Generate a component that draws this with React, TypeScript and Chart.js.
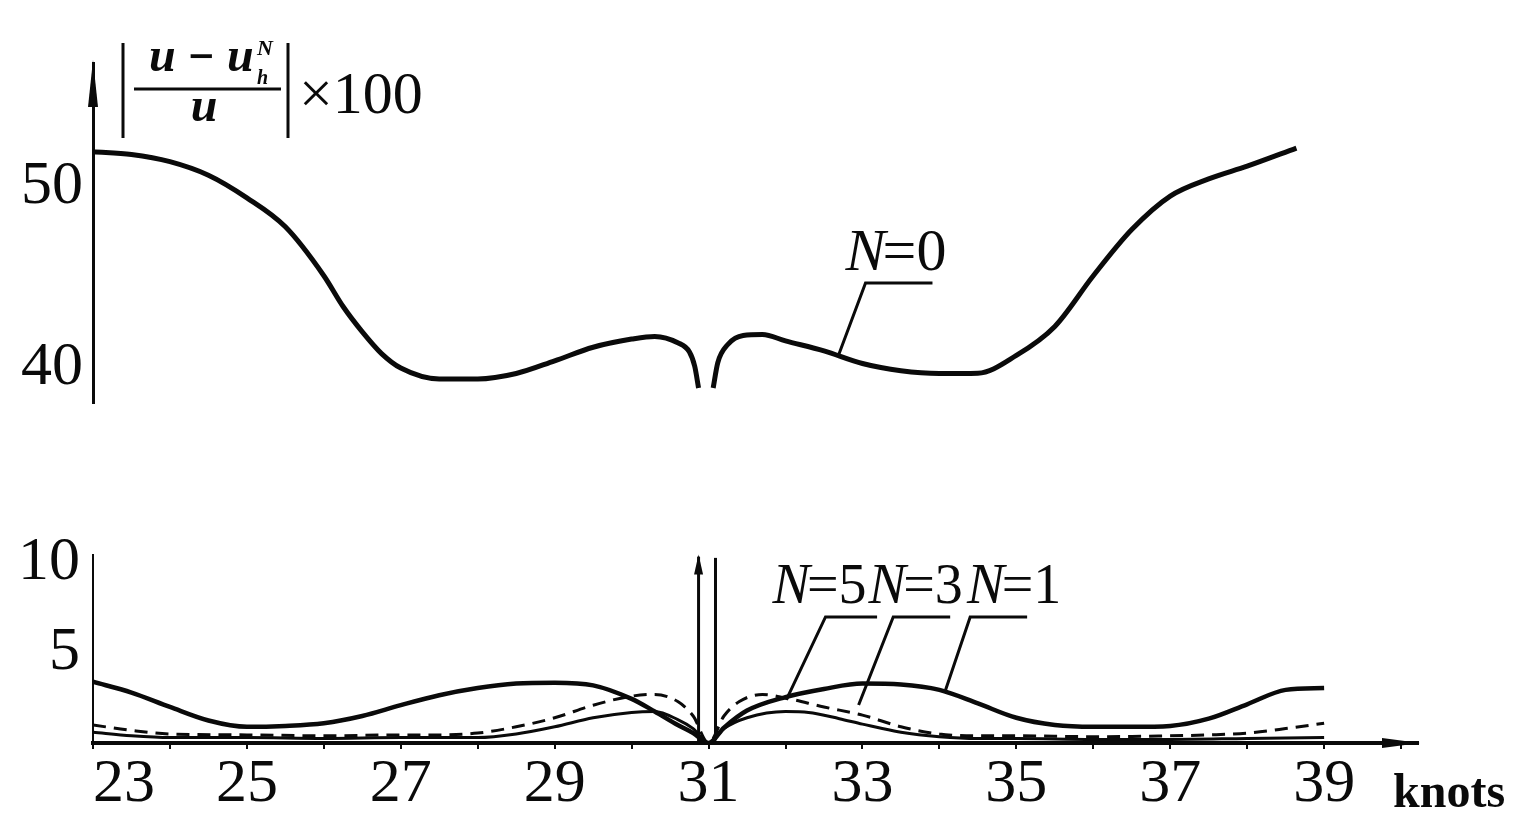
import React, { useEffect, useRef } from 'react';
import { Chart, registerables } from 'chart.js';

Chart.register(...registerables);

// ---------------- data ----------------
const xTickValues = [23, 25, 27, 29, 31, 33, 35, 37, 39];
const xTickLabels = ['23', '25', '27', '29', '31', '33', '35', '37', '39'];
const topYTicks = [40, 50];
const topYLabels = ['40', '50'];
const bottomYTicks = [5, 10];
const bottomYLabels = ['5', '10'];

// N = 0 (upper panel)
const n0Knots = [23, 23.5, 24, 24.5, 25, 25.5, 26, 26.25, 26.5, 26.75, 27, 27.5, 28, 28.5, 29, 29.5, 30, 30.3, 30.6, 30.75, 30.82, 30.87, 30.97, 31.06, 31.12, 31.25, 31.45, 31.7, 32, 32.5, 33, 33.5, 34, 34.5, 35, 35.5, 36, 36.5, 37, 37.5, 38, 38.64];
const n0Values = [51.95, 51.8, 51.4, 50.65, 49.4, 47.8, 45.1, 43.4, 42.0, 40.8, 40.0, 39.4, 39.4, 39.7, 40.4, 41.15, 41.6, 41.75, 41.4, 40.9, 40.1, 38.9, null, 38.9, 40.3, 41.3, 41.8, 41.85, 41.5, 40.95, 40.25, 39.85, 39.7, 39.72, 40.7, 42.3, 45.1, 47.65, 49.5, 50.45, 51.15, 52.15];

// N = 1 (thick solid)
const n1Knots = [23, 23.5, 24, 24.5, 25, 25.5, 26, 26.5, 27, 27.5, 28, 28.5, 29, 29.5, 30, 30.3, 30.6, 30.8, 31, 31.2, 31.5, 32, 32.5, 33, 33.5, 34, 34.5, 35, 35.5, 36, 36.5, 37, 37.5, 38, 38.5, 39];
const n1Values = [3.4, 2.8, 2.0, 1.25, 0.9, 0.95, 1.1, 1.5, 2.1, 2.65, 3.05, 3.3, 3.35, 3.2, 2.45, 1.75, 1.0, 0.55, 0, 0.85, 1.8, 2.55, 3.0, 3.3, 3.25, 2.95, 2.2, 1.4, 1.0, 0.9, 0.9, 0.95, 1.35, 2.15, 2.95, 3.05];

// N = 3 (dashed)
const n3Knots = [23, 23.5, 24, 25, 26, 27, 27.5, 28, 28.5, 29, 29.5, 30, 30.3, 30.6, 30.8, 31, 31.2, 31.4, 31.7, 32, 32.5, 33, 33.5, 34, 34.5, 35, 36, 37, 37.5, 38, 38.5, 39];
const n3Values = [1.0, 0.7, 0.5, 0.45, 0.4, 0.45, 0.45, 0.55, 0.9, 1.4, 2.1, 2.6, 2.7, 2.3, 1.5, 0, 1.5, 2.3, 2.7, 2.5, 2.0, 1.55, 0.9, 0.5, 0.4, 0.4, 0.35, 0.4, 0.45, 0.55, 0.8, 1.1];

// N = 5 (thin solid)
const n5Knots = [23, 23.5, 24, 25, 26, 27, 28, 28.5, 29, 29.5, 30, 30.3, 30.6, 30.8, 31, 31.2, 31.5, 32, 32.3, 32.7, 33, 33.5, 34, 34.5, 35, 36, 37, 38, 39];
const n5Values = [0.6, 0.4, 0.3, 0.3, 0.25, 0.3, 0.3, 0.5, 0.9, 1.4, 1.7, 1.75, 1.3, 0.8, 0, 0.8, 1.4, 1.75, 1.7, 1.35, 1.05, 0.6, 0.35, 0.25, 0.25, 0.2, 0.2, 0.25, 0.3];

// vertical spike at knot 31 (two lines)
const spikeKnots = [30.87, 31.09];
const spikeBottoms = [0, 0.15];
const spikeTops = [10.35, 10.28];

// label leader lines
const leaderN0Knots = [32.69, 33.04, 33.91];
const leaderN0Values = [40.72, 44.7, 44.7];
const leaderN5Knots = [32.01, 32.52, 33.19];
const leaderN5Values = [2.39, 7.0, 7.0];
const leaderN3Knots = [32.95, 33.4, 34.14];
const leaderN3Values = [2.11, 7.0, 7.0];
const leaderN1Knots = [34.08, 34.4, 35.14];
const leaderN1Values = [2.94, 7.0, 7.0];

// curve labels
const n0LabelText = ['N', '=0'];
const n0LabelPos = [32.78, 45.4];
const bottomLabelTexts = ['=5', '=3', '=1'];
const bottomLabelKnots = [31.83, 33.08, 34.36];
const bottomLabelValue = 7.75;

const xMin = 23;
const xMax = 40.22;

// ---------------- helpers ----------------
const SERIF = '"Liberation Serif", "Times New Roman", serif';
const INK = '#0a0a0a';
const W = 1514;
const H = 826;

const pts = (k: number[], v: (number | null)[]) => k.map((x, i) => ({ x, y: v[i] }));

function drawNLabel(ctx: CanvasRenderingContext2D, x: number, y: number, rest: string, size: number) {
  ctx.textAlign = 'left';
  ctx.textBaseline = 'alphabetic';
  ctx.font = `italic ${size}px ${SERIF}`;
  ctx.fillText('N', x, y);
  const w = ctx.measureText('N').width;
  ctx.font = `${size}px ${SERIF}`;
  ctx.fillText(rest, x + w - size * 0.05, y);
}

function lineDs(data: any[], width: number, dash: number[] = [], smooth = true) {
  return {
    data,
    borderColor: INK,
    borderWidth: width,
    borderDash: dash,
    pointRadius: 0,
    fill: false,
    spanGaps: false,
    cubicInterpolationMode: smooth ? 'monotone' : 'default',
    tension: smooth ? 0.4 : 0,
  };
}

const xTickCallback = (v: any) => {
  const i = xTickValues.findIndex((t) => Math.abs(t - Number(v)) < 1e-6);
  if (i < 0) return '';
  return i === 0 ? '    ' + xTickLabels[i] : xTickLabels[i];
};

// ---------------- plugins ----------------
const topDecor = {
  id: 'topDecor',
  afterDraw(chart: any) {
    const { ctx, chartArea, scales } = chart;
    const ax = scales.y.right;
    const top = chartArea.top;
    ctx.save();
    ctx.fillStyle = INK;
    ctx.strokeStyle = INK;
    // axis arrow head
    ctx.beginPath();
    ctx.moveTo(ax, top - 3);
    ctx.lineTo(ax - 5, top + 44);
    ctx.lineTo(ax + 5, top + 44);
    ctx.closePath();
    ctx.fill();

    // |(u - u_h^N)/u| x100
    ctx.lineWidth = 3;
    ctx.beginPath();
    ctx.moveTo(ax + 30, top - 20);
    ctx.lineTo(ax + 30, top + 75);
    ctx.moveTo(ax + 195, top - 20);
    ctx.lineTo(ax + 195, top + 75);
    ctx.moveTo(ax + 41, top + 26);
    ctx.lineTo(ax + 188, top + 26);
    ctx.stroke();

    ctx.textBaseline = 'alphabetic';
    ctx.textAlign = 'left';
    ctx.font = `italic bold 48px ${SERIF}`;
    ctx.fillText('u', ax + 56, top + 8);
    ctx.font = `bold 34px "DejaVu Serif", serif`;
    ctx.fillText('\u2212', ax + 94, top + 4);
    ctx.font = `italic bold 48px ${SERIF}`;
    ctx.fillText('u', ax + 134, top + 8);
    ctx.font = `italic bold 22px ${SERIF}`;
    ctx.fillText('N', ax + 164, top - 8);
    ctx.font = `italic bold 20px ${SERIF}`;
    ctx.fillText('h', ax + 164, top + 21);
    ctx.font = `italic bold 48px ${SERIF}`;
    ctx.textAlign = 'center';
    ctx.fillText('u', ax + 111, top + 58);
    ctx.textAlign = 'left';
    ctx.font = `60px ${SERIF}`;
    ctx.fillText('\u00d7100', ax + 206, top + 50);

    // N=0 label
    const lx = scales.x.getPixelForValue(n0LabelPos[0]);
    const ly = scales.y.getPixelForValue(n0LabelPos[1]);
    drawNLabel(ctx, lx, ly, n0LabelText[1], 60);
    ctx.restore();
  },
};

const bottomDecor = {
  id: 'bottomDecor',
  afterDraw(chart: any) {
    const { ctx, chartArea, scales } = chart;
    const xs = scales.x;
    const ys = scales.y;
    ctx.save();
    ctx.fillStyle = INK;
    // x axis arrow head
    const ay = chartArea.bottom;
    const ex = chartArea.right;
    ctx.beginPath();
    ctx.moveTo(ex + 2, ay);
    ctx.lineTo(ex - 36, ay - 5);
    ctx.lineTo(ex - 36, ay + 5);
    ctx.closePath();
    ctx.fill();
    // spike arrow head
    const sx = xs.getPixelForValue(spikeKnots[0]);
    const sy = ys.getPixelForValue(spikeTops[0]);
    ctx.beginPath();
    ctx.moveTo(sx, sy - 2);
    ctx.lineTo(sx - 4.5, sy + 18);
    ctx.lineTo(sx + 4.5, sy + 18);
    ctx.closePath();
    ctx.fill();

    // N=5 N=3 N=1 labels
    const by = ys.getPixelForValue(bottomLabelValue);
    bottomLabelKnots.forEach((k, i) => {
      drawNLabel(ctx, xs.getPixelForValue(k), by, bottomLabelTexts[i], 56);
    });

    // axis title
    ctx.font = `bold 48px ${SERIF}`;
    ctx.textAlign = 'left';
    ctx.textBaseline = 'alphabetic';
    ctx.fillText('knots', ex - 25, ay + 64);
    ctx.restore();
  },
};

// ---------------- component ----------------
export default function App() {
  const topRef = useRef<HTMLCanvasElement>(null);
  const botRef = useRef<HTMLCanvasElement>(null);

  useEffect(() => {
    const tickFont = { family: SERIF, size: 62, lineHeight: 1 };

    const topChart = new Chart(topRef.current as HTMLCanvasElement, {
      type: 'line',
      data: {
        datasets: [
          lineDs(pts(n0Knots, n0Values), 5),
          lineDs(pts(leaderN0Knots, leaderN0Values), 3, [], false),
        ],
      },
      options: {
        animation: false,
        responsive: false,
        maintainAspectRatio: false,
        layout: { padding: { top: 63, bottom: H - 403, left: 0, right: 96 } },
        plugins: { legend: { display: false }, tooltip: { enabled: false }, title: { display: false } },
        scales: {
          x: { type: 'linear', min: xMin, max: xMax, display: false },
          y: {
            type: 'linear',
            min: 38.07,
            max: 56.85,
            afterBuildTicks: (s: any) => {
              s.ticks = topYTicks.map((v) => ({ value: v }));
            },
            afterFit: (s: any) => {
              s.width = 93;
            },
            ticks: {
              color: INK,
              font: tickFont,
              padding: 10,
              callback: (v: any) => topYLabels[topYTicks.indexOf(Number(v))] ?? '',
            },
            grid: { display: false, drawTicks: false },
            border: { display: true, color: INK, width: 3 },
          },
        },
      },
      plugins: [topDecor],
    } as any);

    const botChart = new Chart(botRef.current as HTMLCanvasElement, {
      type: 'line',
      data: {
        datasets: [
          lineDs(pts(n5Knots, n5Values), 3),
          lineDs(pts(n3Knots, n3Values), 3, [13, 8]),
          lineDs(pts(n1Knots, n1Values), 4.5),
          lineDs(pts([spikeKnots[0], spikeKnots[0]], [spikeBottoms[0], spikeTops[0]]), 3, [], false),
          lineDs(pts([spikeKnots[1], spikeKnots[1]], [spikeBottoms[1], spikeTops[1]]), 3, [], false),
          lineDs(pts(leaderN5Knots, leaderN5Values), 3, [], false),
          lineDs(pts(leaderN3Knots, leaderN3Values), 3, [], false),
          lineDs(pts(leaderN1Knots, leaderN1Values), 3, [], false),
        ],
      },
      options: {
        animation: false,
        responsive: false,
        maintainAspectRatio: false,
        layout: { padding: { top: 555, bottom: 0, left: 0, right: 96 } },
        plugins: { legend: { display: false }, tooltip: { enabled: false }, title: { display: false } },
        scales: {
          x: {
            type: 'linear',
            min: xMin,
            max: xMax,
            afterFit: (s: any) => {
              s.height = H - 743;
            },
            ticks: {
              stepSize: 1,
              includeBounds: false,
              autoSkip: false,
              maxRotation: 0,
              color: INK,
              font: tickFont,
              padding: 5,
              callback: xTickCallback,
            },
            grid: { display: true, drawOnChartArea: false, drawTicks: true, tickLength: 6, color: INK, lineWidth: 2 },
            border: { display: true, color: INK, width: 4 },
          },
          y: {
            type: 'linear',
            min: 0,
            max: 10.44,
            afterBuildTicks: (s: any) => {
              s.ticks = bottomYTicks.map((v) => ({ value: v }));
            },
            afterFit: (s: any) => {
              s.width = 93;
            },
            ticks: {
              color: INK,
              font: tickFont,
              padding: 13,
              callback: (v: any) => bottomYLabels[bottomYTicks.indexOf(Number(v))] ?? '',
            },
            grid: { display: false, drawTicks: false },
            border: { display: true, color: INK, width: 2 },
          },
        },
      },
      plugins: [bottomDecor],
    } as any);

    return () => {
      topChart.destroy();
      botChart.destroy();
    };
  }, []);

  const canvasStyle: React.CSSProperties = { position: 'absolute', left: 0, top: 0, width: W, height: H };
  return (
    <div style={{ position: 'fixed', left: 0, top: 0, width: W, height: H, background: '#fff' }}>
      <canvas ref={topRef} width={W} height={H} style={canvasStyle} />
      <canvas ref={botRef} width={W} height={H} style={canvasStyle} />
    </div>
  );
}
